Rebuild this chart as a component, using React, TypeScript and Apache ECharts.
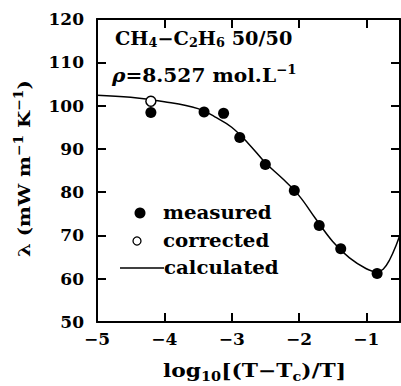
import React, { useEffect, useRef } from "react";
import * as echarts from "echarts";

const measuredX = [-4.2, -3.41, -3.12, -2.88, -2.5, -2.07, -1.7, -1.38, -0.84];
const measuredY = [98.4, 98.5, 98.2, 92.6, 86.4, 80.4, 72.3, 66.9, 61.2];
const correctedX = [-4.2];
const correctedY = [101.0];
const calcX = [-5, -4.5, -4, -3.5, -3.25, -3, -2.75, -2.5, -2.25, -2, -1.75, -1.5, -1.25, -1, -0.85, -0.75, -0.65, -0.55, -0.5];
const calcY = [102.4, 101.9, 100.9, 99.3, 97.4, 95.0, 91.2, 86.8, 83.2, 79.2, 73.8, 68.6, 64.8, 62.3, 61.6, 62.2, 64.5, 68.0, 70.2];

const FONT = "'DejaVu Serif', 'Liberation Serif', serif";

export default function App() {
  const ref = useRef<HTMLDivElement>(null);
  useEffect(() => {
    if (!ref.current) return;
    const chart = echarts.init(ref.current, undefined, { renderer: "svg" });
    const axisCommon = {
      axisLine: { show: true, lineStyle: { color: "#000", width: 2 } },
      axisTick: { show: true, inside: true, length: 9, lineStyle: { color: "#000", width: 2 } },
      splitLine: { show: false },
    };
    const minus = (v: number) => (v < 0 ? "\u2212" + Math.abs(v) : String(v));
    const base = { fontFamily: FONT, fontWeight: "bold", fontSize: 17, color: "#000" };
    const txt = (size: number) => ({ fontFamily: FONT, fontWeight: "bold", fontSize: size, fill: "#000" });
    const sub = (size: number, off: number) => ({ ...txt(size), padding: [off, 0, 0, 0] });
    const sup = (size: number, off: number) => ({ ...txt(size), padding: [0, 0, off, 0] });
    chart.setOption({
      animation: false,
      backgroundColor: "#fff",
      grid: { left: 97, right: 1, top: 19, bottom: 64 },
      xAxis: [
        {
          type: "value",
          min: -5,
          max: -0.5,
          interval: 1,
          position: "bottom",
          ...axisCommon,
          axisLabel: { ...base, margin: 8, formatter: (v: number) => (v === -0.5 ? "" : minus(v)), showMaxLabel: false },
        },
        {
          type: "value",
          min: -5,
          max: -0.5,
          interval: 1,
          position: "top",
          ...axisCommon,
          axisLabel: { show: false },
        },
      ],
      yAxis: [
        {
          type: "value",
          min: 50,
          max: 120,
          interval: 10,
          position: "left",
          ...axisCommon,
          axisLabel: { ...base, margin: 13 },
        },
        {
          type: "value",
          min: 50,
          max: 120,
          interval: 10,
          position: "right",
          ...axisCommon,
          axisLabel: { show: false },
        },
      ],
      series: [
        {
          name: "calculated",
          type: "line",
          smooth: 0.4,
          showSymbol: false,
          data: calcX.map((x, i) => [x, calcY[i]]),
          lineStyle: { color: "#000", width: 1.5 },
          z: 2,
        },
        {
          name: "measured",
          type: "scatter",
          symbol: "circle",
          symbolSize: 11,
          data: measuredX.map((x, i) => [x, measuredY[i]]),
          itemStyle: { color: "#000", opacity: 1 },
          z: 3,
        },
        {
          name: "corrected",
          type: "scatter",
          symbol: "circle",
          symbolSize: 10,
          data: correctedX.map((x, i) => [x, correctedY[i]]),
          itemStyle: { color: "#fff", borderColor: "#000", borderWidth: 1.5, opacity: 1 },
          z: 3,
        },
      ],
      graphic: [
        {
          type: "text",
          x: 115,
          y: 38,
          scaleX: 1.07,
          style: {
            text: "CH{s|4}\u2212C{s|2}H{s|6} 50/50",
            ...txt(18),
            textVerticalAlign: "middle",
            rich: { s: sub(12, 10) },
          },
        },
        {
          type: "text",
          x: 112,
          y: 76,
          scaleX: 1.12,
          style: {
            text: "{i|\u03c1}=8.527 mol.L{p|\u22121}",
            ...txt(18),
            textVerticalAlign: "middle",
            rich: { p: sup(12, 12), i: { ...txt(18), fontStyle: "italic" } },
          },
        },
        {
          type: "text",
          x: 163,
          y: 371,
          scaleX: 1.21,
          style: {
            text: "log{s|10}[(T\u2212T{s|c})/T]",
            ...txt(18),
            textVerticalAlign: "middle",
            rich: { s: sub(12, 11) },
          },
        },
        {
          type: "text",
          x: 24,
          y: 257,
          rotation: Math.PI / 2,
          scaleX: 1.16,
          style: {
            text: "\u03bb (mW m{p|\u22121} K{p|\u22121})",
            ...txt(17),
            textVerticalAlign: "middle",
            rich: { p: sup(12, 11) },
          },
        },
        { type: "circle", shape: { cx: 140, cy: 213, r: 5.5 }, style: { fill: "#000" } },
        { type: "circle", shape: { cx: 137, cy: 241, r: 4 }, style: { fill: "#fff", stroke: "#000", lineWidth: 1.3 } },
        { type: "line", shape: { x1: 120, y1: 268, x2: 164, y2: 268 }, style: { stroke: "#000", lineWidth: 1.5 } },
        { type: "text", x: 163, y: 212, scaleX: 1.1, style: { text: "measured", ...txt(18), textVerticalAlign: "middle" } },
        { type: "text", x: 163, y: 240, scaleX: 1.1, style: { text: "corrected", ...txt(18), textVerticalAlign: "middle" } },
        { type: "text", x: 164, y: 267, scaleX: 1.1, style: { text: "calculated", ...txt(18), textVerticalAlign: "middle" } },
      ],
    });
    return () => chart.dispose();
  }, []);
  return <div ref={ref} style={{ width: 401, height: 386, position: "absolute", left: 0, top: 0 }} />;
}
